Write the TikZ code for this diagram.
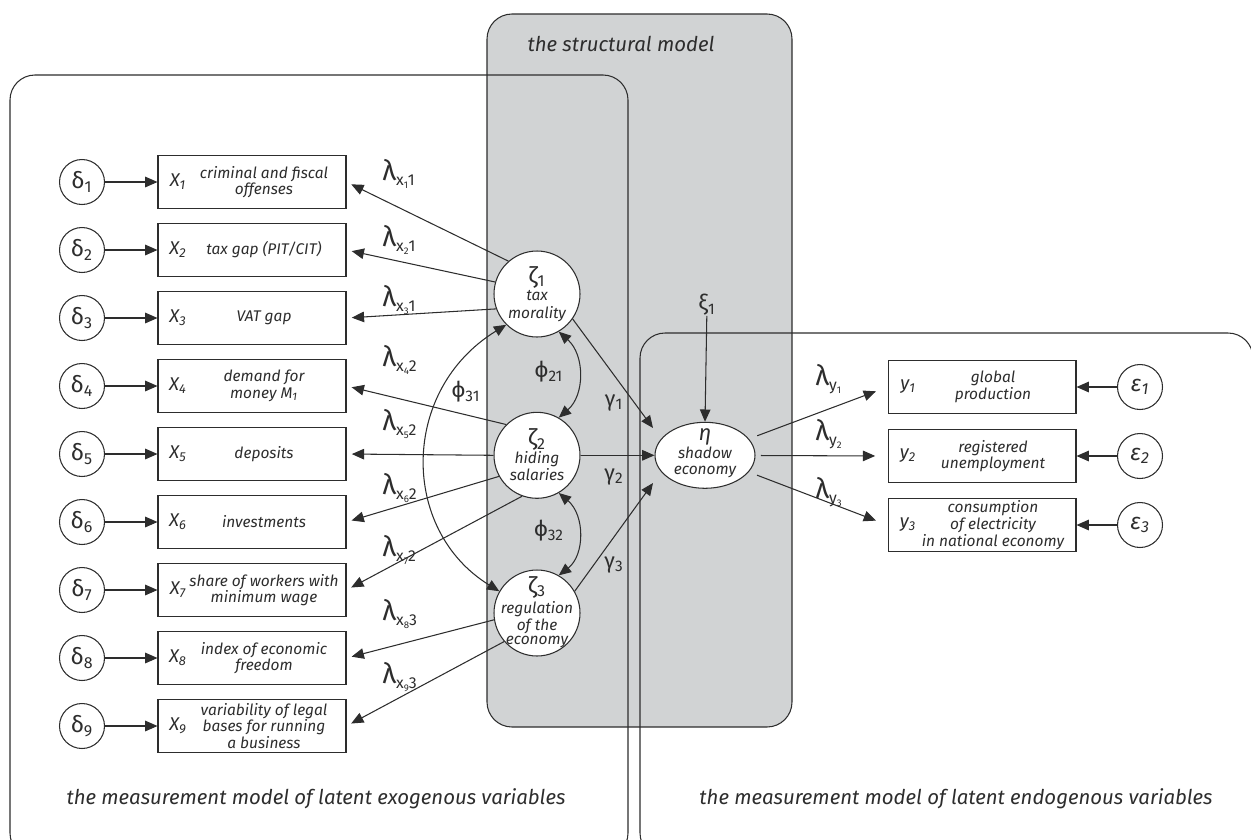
\documentclass[tikz,border=0pt]{standalone}
\usepackage{fontspec}
\setmainfont{Fira Sans}
\usetikzlibrary{arrows.meta,shapes.geometric}
\definecolor{sgrey}{RGB}{209,211,212}
\definecolor{ink}{RGB}{45,45,45}
\newcommand\fs[1]{\fontsize{#1}{#1}\selectfont}
\newcommand\lamx[2]{{\fs{16}λ}\raisebox{-0.55ex}{\fs{9}x\raisebox{-0.35ex}{\fs{5.5}#1}#2}}
\newcommand\lamy[1]{{\fs{16}λ}\raisebox{-0.55ex}{\fs{9}y\raisebox{-0.35ex}{\fs{5.5}#1}}}
\tikzset{
  ln/.style={draw=ink, line width=0.6pt},
  arr/.style={ln, -{Triangle[length=7pt,width=6pt]}},
  darr/.style={ln, {Triangle[length=7pt,width=6pt]}-{Triangle[length=7pt,width=6pt]}},
  errc/.style={circle, ln, fill=white, minimum size=0.9cm, inner sep=0pt, font=\fs{13}},
  erri/.style={errc, font=\fs{13}\itshape},
  vbox/.style={rectangle, ln, fill=white, minimum width=3.76cm, minimum height=1.06cm, inner sep=0pt},
  vlab/.style={font=\fs{10.5}\itshape, inner sep=0pt},
  vdesc/.style={align=center, font=\fontsize{8.8}{9.5}\selectfont\itshape, inner sep=0pt},
  latc/.style={circle, ln, fill=white, minimum size=1.72cm, inner sep=0pt},
  lattxt/.style={align=center, font=\fontsize{8.8}{10}\selectfont\itshape, inner sep=0pt},
  captxt/.style={font=\fs{11.6}\itshape, inner sep=0pt},
  lam/.style={anchor=west, inner sep=0pt},
  grk/.style={font=\fs{12.5}, inner sep=0pt},
}
\newcommand\Xrow[3]{%
  \node[errc] (d#1) at (82,#2) {δ\textsubscript{#1}};
  \node[vbox] (x#1) at (252,#2) {};
  \node[vlab] (xl#1) at (178,#2) {X\textsubscript{#1}};
  \node[vdesc] (xt#1) at (264,#2) {#3};
  \draw[arr] (d#1) -- (x#1);
}
\newcommand\Yrow[3]{%
  \node[erri] (e#1) at (1140,#2) {ε\textsubscript{#1}};
  \node[vbox] (y#1) at (982,#2) {};
  \node[vlab] (yl#1) at (908,#2) {y\textsubscript{#1}};
  \node[vdesc] (yt#1) at (993,#2) {#3};
  \draw[arr] (e#1) -- (y#1);
}
\begin{document}
\begin{tikzpicture}[x=0.02cm, y=-0.02cm, every node/.append style={text=ink}]
\useasboundingbox (0,0) rectangle (1251,839);
% regions
\draw[ln, fill=sgrey, rounded corners=0.5cm] (487,14) rectangle (792,727);
\draw[ln, rounded corners=0.5cm] (10,75) rectangle (628,858);
\draw[ln, rounded corners=0.5cm] (640,333) rectangle (1253,858);
\node[captxt] (tsm) at (621,44) {the structural model};
\node[captxt] (tmx) at (316,799) {the measurement model of latent exogenous variables};
\node[captxt] (tmy) at (956,799) {the measurement model of latent endogenous variables};
% indicator rows
\Xrow{1}{182}{criminal and fiscal\\offenses}
\Xrow{2}{250}{tax gap (PIT/CIT)}
\Xrow{3}{318}{VAT gap}
\Xrow{4}{386}{demand for\\money M\textsubscript{1}}
\Xrow{5}{454}{deposits}
\Xrow{6}{522}{investments}
\Xrow{7}{590}{share of workers with\\minimum wage}
\Xrow{8}{658}{index of economic\\freedom}
\Xrow{9}{726}{variability of legal\\bases for running\\a business}
\Yrow{1}{387}{global\\production}
\Yrow{2}{456}{registered\\unemployment}
\Yrow{3}{525}{consumption\\of electricity\\in national economy}
% latent variables
\node[latc] (z1) at (537,294) {};
\node[latc] (z2) at (537,455.3) {};
\node[latc] (z3) at (537,613) {};
\node[lattxt] (z1t) at (537,294) {{\upshape\fs{13}ζ\textsubscript{1}}\\tax\\morality};
\node[lattxt] (z2t) at (537,455) {{\upshape\fs{13}ζ\textsubscript{2}}\\hiding\\salaries};
\node[lattxt, font=\fontsize{8.8}{8}\selectfont\itshape] (z3t) at (537,612) {{\upshape\fs{13}ζ\textsubscript{3}}\\[1pt]regulation\\of the\\economy};
\node[ellipse, ln, fill=white, minimum width=2.0cm, minimum height=1.32cm, inner sep=0pt] (eta) at (705,455.3) {};
\node[lattxt, font=\fontsize{8.8}{9}\selectfont\itshape] (etat) at (705,453) {{\fs{12.5}η}\\shadow\\economy};
\node[grk] (xi) at (707,305) {ξ\textsubscript{1}};
% loadings
\draw[arr, shorten >=3pt] (z1.131) -- (x1.east);
\draw[arr, shorten >=3pt] (z1.164) -- (x2.east);
\draw[arr, shorten >=3pt] (z1.200) -- (x3.east);
\draw[arr, shorten >=3pt] (z2.135) -- (x4.east);
\draw[arr, shorten >=3pt] (z2.180) -- (x5.east);
\draw[arr, shorten >=3pt] (z2.209) -- (x6.east);
\draw[arr, shorten >=3pt] (z2.250) -- (x7.east);
\draw[arr, shorten >=3pt] (z3.189) -- (x8.east);
\draw[arr, shorten >=3pt] (z3.221) -- (x9.east);
\node[lam] (lx1) at (382,174) {\lamx{1}{1}};
\node[lam] (lx2) at (382,240) {\lamx{2}{1}};
\node[lam] (lx3) at (382,300) {\lamx{3}{1}};
\node[lam] (lx4) at (382,360) {\lamx{4}{2}};
\node[lam] (lx5) at (382,424) {\lamx{5}{2}};
\node[lam] (lx6) at (382,488) {\lamx{6}{2}};
\node[lam] (lx7) at (382,550) {\lamx{7}{2}};
\node[lam] (lx8) at (382,614) {\lamx{8}{3}};
\node[lam] (lx9) at (382,677) {\lamx{9}{3}};
% structural paths
\coordinate (t1) at (653,428);
\coordinate (t3) at (653,483);
\draw[arr] (z1.-35) -- (t1);
\draw[arr] (z2.0) -- (eta.west);
\draw[arr] (z3.30) -- (t3);
\node[grk] (g1) at (614,403) {γ\textsubscript{1}};
\node[grk] (g2) at (614,477) {γ\textsubscript{2}};
\node[grk] (g3) at (614,565) {γ\textsubscript{3}};
\draw[arr] (xi) -- (eta.north);
% covariances
\draw[darr] (z1.-60) .. controls (585,355) and (585,395) .. (z2.60);
\draw[darr] (z2.-60) .. controls (585,515) and (585,555) .. (z3.60);
\draw[darr] (z1.225) .. controls (400,390) and (400,530) .. (z3.150);
\node[grk] (p21) at (549,372) {ϕ\textsubscript{21}};
\node[grk] (p32) at (549,531) {ϕ\textsubscript{32}};
\node[grk] (p31) at (466,392) {ϕ\textsubscript{31}};
% endogenous loadings
\draw[arr, shorten <=5pt, shorten >=7pt] (eta) -- (y1.west);
\draw[arr, shorten <=3pt, shorten >=7pt] (eta) -- (y2.west);
\draw[arr, shorten <=5pt, shorten >=7pt] (eta) -- (y3.west);
\node[lam] (ly1) at (815,379) {\lamy{1}};
\node[lam] (ly2) at (815,434) {\lamy{2}};
\node[lam] (ly3) at (815,492) {\lamy{3}};
\end{tikzpicture}
\end{document}
